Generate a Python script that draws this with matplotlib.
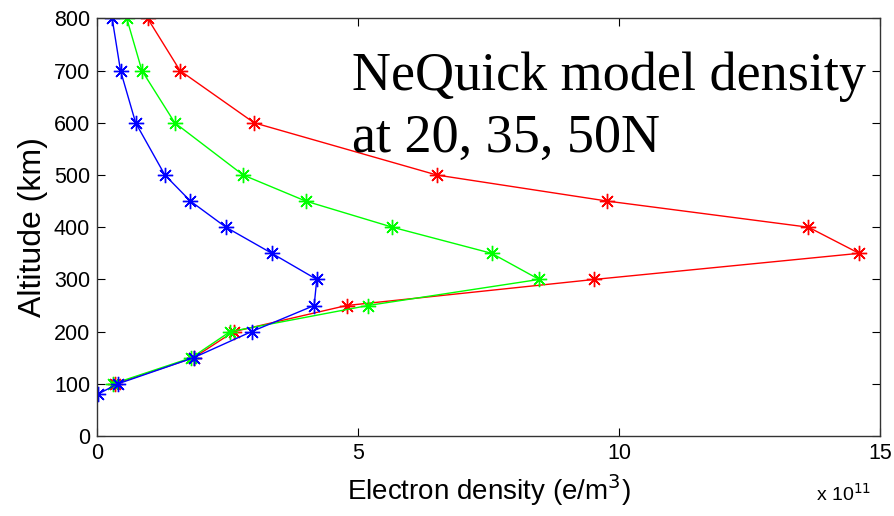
import matplotlib
matplotlib.use("Agg")
import matplotlib.pyplot as plt

alt_blue = [800, 700, 600, 500, 450, 400, 350, 300, 250, 200, 150, 100, 80]
ne_blue = [0.29, 0.45, 0.74, 1.30, 1.79, 2.47, 3.35, 4.21, 4.16, 2.96, 1.85, 0.40, 0.01]

alt_green = [800, 700, 600, 500, 450, 400, 350, 300, 250, 200, 150, 100]
ne_green = [0.57, 0.86, 1.49, 2.80, 4.00, 5.66, 7.56, 8.47, 5.19, 2.55, 1.81, 0.31]

alt_red = [800, 700, 600, 500, 450, 400, 350, 300, 250, 200, 150, 100]
ne_red = [0.97, 1.59, 3.01, 6.51, 9.78, 13.63, 14.60, 9.53, 4.78, 2.62, 1.85, 0.35]

xticks = [0, 5, 10, 15]
yticks = [0, 100, 200, 300, 400, 500, 600, 700, 800]

plt.rcParams['font.family'] = ['Liberation Sans', 'DejaVu Sans']

fig = plt.figure(figsize=(8.95, 5.16), dpi=100)
ax = fig.add_axes([0.1084, 0.155, 0.8748, 0.8093])

mk = (8, 2, 0)
ax.plot(ne_red, alt_red, color=(1, 0, 0), lw=1.0, marker=mk, ms=11, mew=1.0)
ax.plot(ne_green, alt_green, color=(0, 1, 0), lw=1.0, marker=mk, ms=11, mew=1.0)
ax.plot(ne_blue, alt_blue, color=(0, 0, 1), lw=1.0, marker=mk, ms=11, mew=1.0)

ax.set_xlim(0, 15)
ax.set_ylim(0, 800)
ax.set_xticks(xticks)
ax.set_yticks(yticks)
ax.set_xticklabels([str(t) for t in xticks])
ax.set_yticklabels([str(t) for t in yticks])
ax.tick_params(direction='in', top=True, right=True, labelsize=15.5, length=6, pad=5)
for s in ax.spines.values():
    s.set_linewidth(1.0)
    s.set_color('#333333')

ax.set_xlabel('Electron density (e/m$^3$)', fontsize=20, labelpad=6)
ax.set_ylabel('Altitude (km)', fontsize=23, labelpad=4)
fig.text(0.943, 0.030, r'x 10$^{11}$', fontsize=14, ha='center', va='baseline')

fig.text(0.393, 1 - 90 / 516, 'NeQuick model density', family=['Liberation Serif'],
         fontsize=39, ha='left', va='baseline')
fig.text(0.393, 1 - 152 / 516, 'at 20, 35, 50N', family=['Liberation Serif'],
         fontsize=39, ha='left', va='baseline')

fig.savefig('out.png', dpi=100)
